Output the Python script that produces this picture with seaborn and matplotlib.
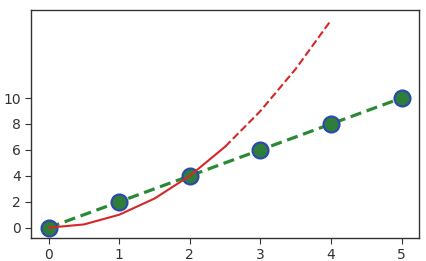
import matplotlib
matplotlib.use("Agg")
import matplotlib.pyplot as plt
import seaborn as sns
import pandas as pd

x_lin = [0, 1, 2, 3, 4, 5]
y_lin = [0, 2, 4, 6, 8, 10]
x_sq_solid = [0, 0.5, 1, 1.5, 2, 2.5]
y_sq_solid = [0, 0.25, 1, 2.25, 4, 6.25]
x_sq_dash = [2.5, 3, 3.5, 4]
y_sq_dash = [6.25, 9, 12.25, 16]
y_ticks = [0, 2, 4, 6, 8, 10]

sns.set_style("ticks")
plt.rcParams['font.family'] = ['DejaVu Sans']

fig = plt.figure(figsize=(4.26, 2.61), dpi=100)
ax = fig.add_axes([0.073, 0.088, 0.911, 0.874])

df_lin = pd.DataFrame({"x": x_lin, "y": y_lin})
df_s = pd.DataFrame({"x": x_sq_solid, "y": y_sq_solid})
df_d = pd.DataFrame({"x": x_sq_dash, "y": y_sq_dash})

sns.lineplot(data=df_lin, x="x", y="y", ax=ax, color="#2a8a34", linestyle=(0, (3.5, 1.8)),
             linewidth=2.3, marker="o", markersize=11.5, markerfacecolor="#2e7d3a",
             markeredgecolor="#2a48b0", markeredgewidth=1.5)
sns.lineplot(data=df_s, x="x", y="y", ax=ax, color="#d62728", linewidth=1.5)
sns.lineplot(data=df_d, x="x", y="y", ax=ax, color="#d62728", linewidth=1.5, linestyle="--")

ax.set_xlim(-0.25, 5.25)
ax.set_ylim(-0.8, 16.8)
ax.set_yticks(y_ticks)
ax.set_xticks(x_lin)
ax.set_xlabel("")
ax.set_ylabel("")
for s in ax.spines.values():
    s.set_color("#333333")
    s.set_linewidth(1.0)
ax.tick_params(labelsize=10, colors="#333333", length=4)

fig.savefig("out.png", dpi=100)
